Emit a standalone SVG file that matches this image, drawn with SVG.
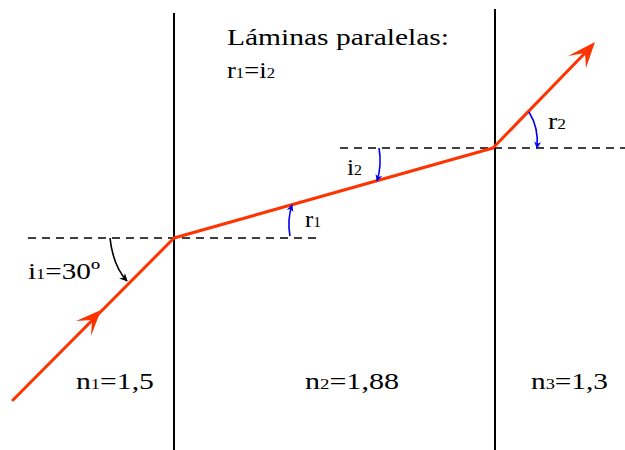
<svg xmlns="http://www.w3.org/2000/svg" width="625" height="450" viewBox="0 0 625 450">
<defs>
<style>
.t{font-family:"Liberation Serif","Times New Roman","DejaVu Serif",serif;font-size:24px;fill:#000}
.s{font-size:15px}
.ray{stroke:#ff3300;stroke-width:3;fill:none;stroke-linecap:round;stroke-linejoin:round}
.dash{stroke:#000;stroke-width:1.5;stroke-dasharray:8,6;fill:none}
.wall{stroke:#000;stroke-width:2;fill:none}
.blue{stroke:#0000ee;stroke-width:1.6;fill:none}
.blk{stroke:#000;stroke-width:1.6;fill:none}
</style>
<marker id="ab" viewBox="0 0 10 10" refX="9" refY="5" markerWidth="7" markerHeight="7" orient="auto" markerUnits="userSpaceOnUse"><path d="M0,0 L10,5 L0,10 L3,5 Z" fill="#0000ee"/></marker>
<marker id="ak" viewBox="0 0 10 10" refX="9" refY="5" markerWidth="8" markerHeight="8" orient="auto" markerUnits="userSpaceOnUse"><path d="M0,0 L10,5 L0,10 L3,5 Z" fill="#000"/></marker>
</defs>
<rect width="625" height="450" fill="#fff"/>
<g id="walls">
<line class="wall" x1="174" y1="13" x2="174" y2="450"/>
<line class="wall" x1="495" y1="9" x2="495" y2="450"/>
</g>
<g id="normals">
<line class="dash" x1="28" y1="238" x2="316" y2="238"/>
<line class="dash" x1="340" y1="148" x2="625" y2="148"/>
</g>
<g id="connectors">
<polyline class="ray" points="13,400 174,238 493,148 586,52"/>
<path d="M101,310 L76,321 L92,320 L91,336 Z" fill="#ff3300"/>
<path d="M595,42 L568,56 L585,53 L586,68 Z" fill="#ff3300"/>
<path class="blk" d="M110,238 Q113,266 127,281" marker-end="url(#ak)"/>
<path class="blue" d="M290,236 Q287,220 292,205" marker-end="url(#ab)"/>
<path class="blue" d="M379,148 Q382,165 377,181" marker-end="url(#ab)"/>
<path class="blue" d="M529,112 Q539,128 537,148" marker-end="url(#ab)"/>
</g>
<g id="title">
<text class="t" x="227" y="45" font-size="25" textLength="222" lengthAdjust="spacingAndGlyphs">Láminas paralelas:</text>
<text class="t" x="227" y="78" textLength="48" lengthAdjust="spacingAndGlyphs">r<tspan class="s">1</tspan>=i<tspan class="s">2</tspan></text>
</g>
<g id="labels">
<text class="t" x="28" y="279" textLength="72" lengthAdjust="spacingAndGlyphs">i<tspan class="s">1</tspan>=30º</text>
<text class="t" x="305" y="227" textLength="16" lengthAdjust="spacingAndGlyphs">r<tspan class="s">1</tspan></text>
<text class="t" x="347" y="175" textLength="15" lengthAdjust="spacingAndGlyphs">i<tspan class="s">2</tspan></text>
<text class="t" x="548" y="129" textLength="18" lengthAdjust="spacingAndGlyphs">r<tspan class="s">2</tspan></text>
</g>
<g id="media">
<text class="t" x="76" y="389" textLength="78" lengthAdjust="spacingAndGlyphs">n<tspan class="s">1</tspan>=1,5</text>
<text class="t" x="305" y="389" textLength="94" lengthAdjust="spacingAndGlyphs">n<tspan class="s">2</tspan>=1,88</text>
<text class="t" x="531" y="389" textLength="77" lengthAdjust="spacingAndGlyphs">n<tspan class="s">3</tspan>=1,3</text>
</g>
</svg>
